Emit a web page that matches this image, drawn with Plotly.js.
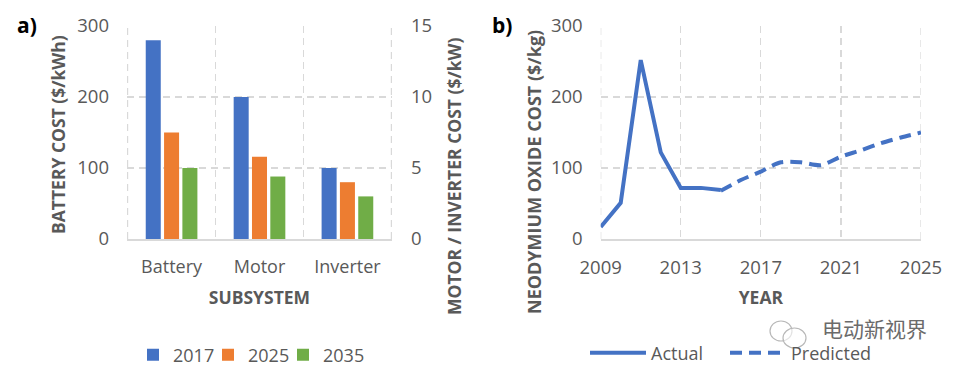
<!DOCTYPE html>
<html>
<head>
<meta charset="utf-8">
<script src="https://cdn.plot.ly/plotly-3.0.1.min.js"></script>
<style>html,body{margin:0;padding:0;background:#fff;}#chart{width:965px;height:387px;}</style>
</head>
<body>
<div id="chart"></div>
<script>
// ---- Data ----
const categories = ['Battery', 'Motor', 'Inverter'];
const years = ['2017', '2025', '2035'];
const batteryCost = [280, 150, 100];      // $/kWh, per year
const motorCost = [10, 5.8, 4.4];         // $/kW, per year
const inverterCost = [5, 4, 3];           // $/kW, per year
const barColors = ['#4472C4', '#ED7D31', '#70AD47'];

const actualYears = [2009, 2010, 2011, 2012, 2013, 2014, 2015];
const actualCost = [17, 51, 252, 122, 72, 72, 69];
const predictedYears = [2015, 2016, 2017, 2018, 2019, 2020, 2021, 2022, 2023, 2024, 2025];
const predictedCost = [68, 83, 95, 108, 108, 104, 116, 125, 135, 143, 150];

const leftTicks = [0, 100, 200, 300];
const rightTicks = [0, 5, 10, 15];
const yearTicks = [2009, 2013, 2017, 2021, 2025];

// ---- Style ----
const FONT = '"Open Sans", "Noto Sans", sans-serif';
const GRAY = '#595959';
const GRID = '#D9D9D9';
const W = 965, H = 387;
const px = x => x / W;
const py = y => 1 - y / H;

const barLegends = ['legend', 'legend3', 'legend4'];
const traces = [];
years.forEach((yr, i) => {
  traces.push({
    type: 'bar', name: yr, x: [categories[0]], y: [batteryCost[i]],
    xaxis: 'x', yaxis: 'y', offsetgroup: 'g' + yr, legendgroup: 'g' + yr,
    marker: {color: barColors[i]}, legend: barLegends[i]
  });
  traces.push({
    type: 'bar', name: yr, x: [categories[1], categories[2]], y: [motorCost[i], inverterCost[i]],
    xaxis: 'x', yaxis: 'y2', offsetgroup: 'g' + yr, legendgroup: 'g' + yr,
    marker: {color: barColors[i]}, showlegend: false
  });
});
traces.push({
  type: 'scatter', mode: 'lines', name: 'Actual', x: actualYears, y: actualCost,
  xaxis: 'x2', yaxis: 'y3', line: {color: '#4472C4', width: 4}, legend: 'legend2'
});
traces.push({
  type: 'scatter', mode: 'lines', name: 'Predicted', x: predictedYears, y: predictedCost,
  xaxis: 'x2', yaxis: 'y3', line: {color: '#4472C4', width: 4, dash: '12px,7px', shape: 'spline', smoothing: 0.8},
  legend: 'legend5'
});

const yDom = [py(239), py(26)];
const numFont = {family: FONT, size: 18.5, color: GRAY};
const catFont = {family: FONT, size: 18, color: GRAY};
const titleFont = {family: FONT, size: 17.5, color: GRAY, weight: 'bold'};
const DASH = '7px,5px';

const gridCommon = {
  showgrid: true, gridcolor: GRID, gridwidth: 1.2, griddash: DASH,
  zeroline: false, tickfont: numFont, ticks: '', fixedrange: true
};

function edge(xref, xv) {
  return {type: 'line', xref: xref, yref: 'y domain', x0: xv, x1: xv, y0: 0, y1: 1,
          line: {color: GRID, width: 1.2, dash: DASH}, layer: 'below'};
}
function barLegend(xPix) {
  return {
    orientation: 'h', x: px(xPix), y: py(355), xanchor: 'left', yanchor: 'middle',
    font: {family: FONT, size: 18, color: GRAY}, bgcolor: 'rgba(0,0,0,0)'
  };
}
function lineLegend(xPix) {
  return {
    orientation: 'h', x: px(xPix), y: py(353), xanchor: 'left', yanchor: 'middle',
    font: {family: FONT, size: 18, color: GRAY}, itemwidth: 56,
    bgcolor: 'rgba(0,0,0,0)'
  };
}

const layout = {
  width: W, height: H,
  margin: {l: 0, r: 0, t: 0, b: 0},
  paper_bgcolor: '#fff', plot_bgcolor: 'rgba(0,0,0,0)',
  font: {family: FONT, color: GRAY},
  barmode: 'group', bargap: 0.375, bargroupgap: 0.18,
  showlegend: true,
  xaxis: Object.assign({}, gridCommon, {
    domain: [px(127), px(392)], anchor: 'y', type: 'category',
    categoryorder: 'array', categoryarray: categories, tickfont: catFont,
    tickson: 'boundaries', showline: true, linecolor: GRID, linewidth: 1.5,
    ticklabelstandoff: 11,
    title: {text: 'SUBSYSTEM', font: titleFont, standoff: 14}
  }),
  yaxis: Object.assign({}, gridCommon, {
    domain: yDom, anchor: 'x', range: [0, 300], tickvals: leftTicks,
    ticklabelstandoff: 17
  }),
  yaxis2: Object.assign({}, gridCommon, {
    overlaying: 'y', side: 'right', anchor: 'x', range: [0, 15], tickvals: rightTicks,
    showgrid: false, ticklabelstandoff: 18
  }),
  xaxis2: Object.assign({}, gridCommon, {
    domain: [px(600.7), px(921)], anchor: 'y3', range: [2009, 2025], tickvals: yearTicks,
    showline: true, linecolor: GRID, linewidth: 1.5, ticklabelstandoff: 11,
    title: {text: 'YEAR', font: titleFont, standoff: 14}
  }),
  yaxis3: Object.assign({}, gridCommon, {
    domain: yDom, anchor: 'x2', range: [0, 300], tickvals: leftTicks,
    ticklabelstandoff: 17
  }),
  legend: barLegend(133),
  legend3: barLegend(208),
  legend4: barLegend(283),
  legend2: lineLegend(585),
  legend5: lineLegend(725),
  annotations: [
    {text: 'a)', x: px(27), y: py(25), xref: 'paper', yref: 'paper', showarrow: false,
     xanchor: 'center', yanchor: 'middle',
     font: {family: FONT, size: 21, color: '#000', weight: 'bold'}},
    {text: 'b)', x: px(502), y: py(25), xref: 'paper', yref: 'paper', showarrow: false,
     xanchor: 'center', yanchor: 'middle',
     font: {family: FONT, size: 21, color: '#000', weight: 'bold'}},
    {text: 'BATTERY COST ($/kWh)', x: px(58), y: py(135), xref: 'paper', yref: 'paper',
     xanchor: 'center', yanchor: 'middle',
     showarrow: false, textangle: -90, font: titleFont},
    {text: 'MOTOR / INVERTER COST ($/kW)', x: px(454), y: py(177), xref: 'paper', yref: 'paper',
     xanchor: 'center', yanchor: 'middle',
     showarrow: false, textangle: -90, font: titleFont},
    {text: 'NEODYMIUM OXIDE COST ($/kg)', x: px(534), y: py(172), xref: 'paper', yref: 'paper',
     xanchor: 'center', yanchor: 'middle',
     showarrow: false, textangle: -90, font: {family: FONT, size: 18, color: GRAY, weight: 'bold'}},
    {text: '电动新视界', x: px(874), y: py(328), xref: 'paper', yref: 'paper', showarrow: false,
     xanchor: 'center', yanchor: 'middle',
     font: {family: '"Noto Sans CJK SC", sans-serif', size: 21, color: '#6b6b6b'}}
  ],
  shapes: [
    edge('x', -0.5), edge('x', 2.5), edge('x2', 2009), edge('x2', 2025),
    {type: 'circle', xref: 'paper', yref: 'paper', x0: px(770), x1: px(792), y0: py(341), y1: py(321),
     line: {color: '#b8b8b8', width: 1.2}, fillcolor: 'rgba(255,255,255,0.6)'},
    {type: 'circle', xref: 'paper', yref: 'paper', x0: px(783), x1: px(806), y0: py(348), y1: py(328),
     line: {color: '#b8b8b8', width: 1.2}, fillcolor: 'rgba(255,255,255,0.6)'}
  ]
};

Plotly.newPlot('chart', traces, layout, {displayModeBar: false, staticPlot: true});
</script>
</body>
</html>
